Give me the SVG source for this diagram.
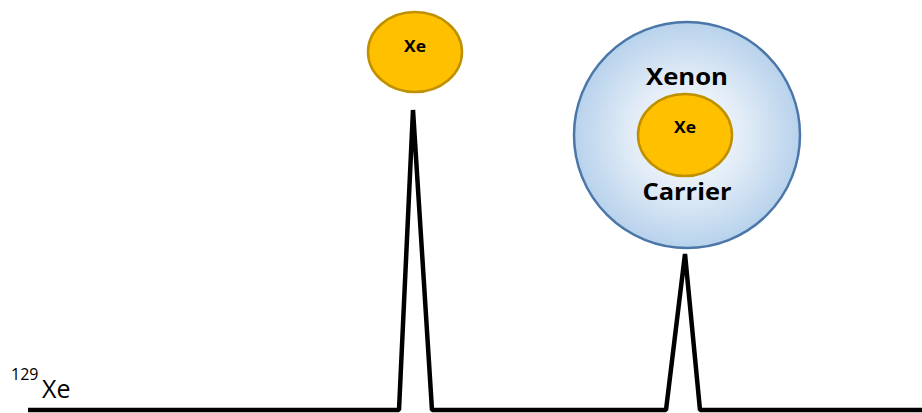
<svg xmlns="http://www.w3.org/2000/svg" width="922" height="413" viewBox="0 0 922 413">
<style>
.xe{fill:#FFC000;stroke:#BF9000;stroke-width:2.5}
.bold{font-family:"Open Sans","Liberation Sans",sans-serif;font-weight:bold;fill:#000;text-anchor:middle}
.reg{font-family:"Open Sans","Liberation Sans",sans-serif;fill:#000}
.spec{fill:none;stroke:#000;stroke-width:4.5;stroke-linejoin:bevel}
</style>
<defs>
<radialGradient id="carrierGrad" cx="50%" cy="50%" r="50%">
<stop offset="0" stop-color="#FFFFFF"/>
<stop offset="0.5" stop-color="#E2ECF7"/>
<stop offset="1" stop-color="#B8D2EC"/>
</radialGradient>
</defs>
<g id="connectors">
<polyline class="spec" points="28,410 399,410 413,110 432,410 666,410 685,254 700,410 922,410"/>
</g>
<g id="free-xe">
<ellipse class="xe" cx="415" cy="52" rx="47" ry="40"/>
<text class="bold" x="415" y="52" font-size="16" textLength="22" lengthAdjust="spacingAndGlyphs">Xe</text>
</g>
<g id="xenon-carrier">
<circle cx="687" cy="135" r="113" fill="url(#carrierGrad)" stroke="#4A76A8" stroke-width="2.5"/>
<text class="bold" x="687" y="85" font-size="24" textLength="82" lengthAdjust="spacingAndGlyphs">Xenon</text>
<ellipse class="xe" cx="685" cy="135" rx="47" ry="41"/>
<text class="bold" x="685" y="133" font-size="16" textLength="22" lengthAdjust="spacingAndGlyphs">Xe</text>
<text class="bold" x="687" y="200" font-size="24" textLength="89" lengthAdjust="spacingAndGlyphs">Carrier</text>
</g>
<g id="label">
<text class="reg" x="11" y="380" font-size="16">129</text>
<text class="reg" x="42" y="398" font-size="25">Xe</text>
</g>
</svg>
